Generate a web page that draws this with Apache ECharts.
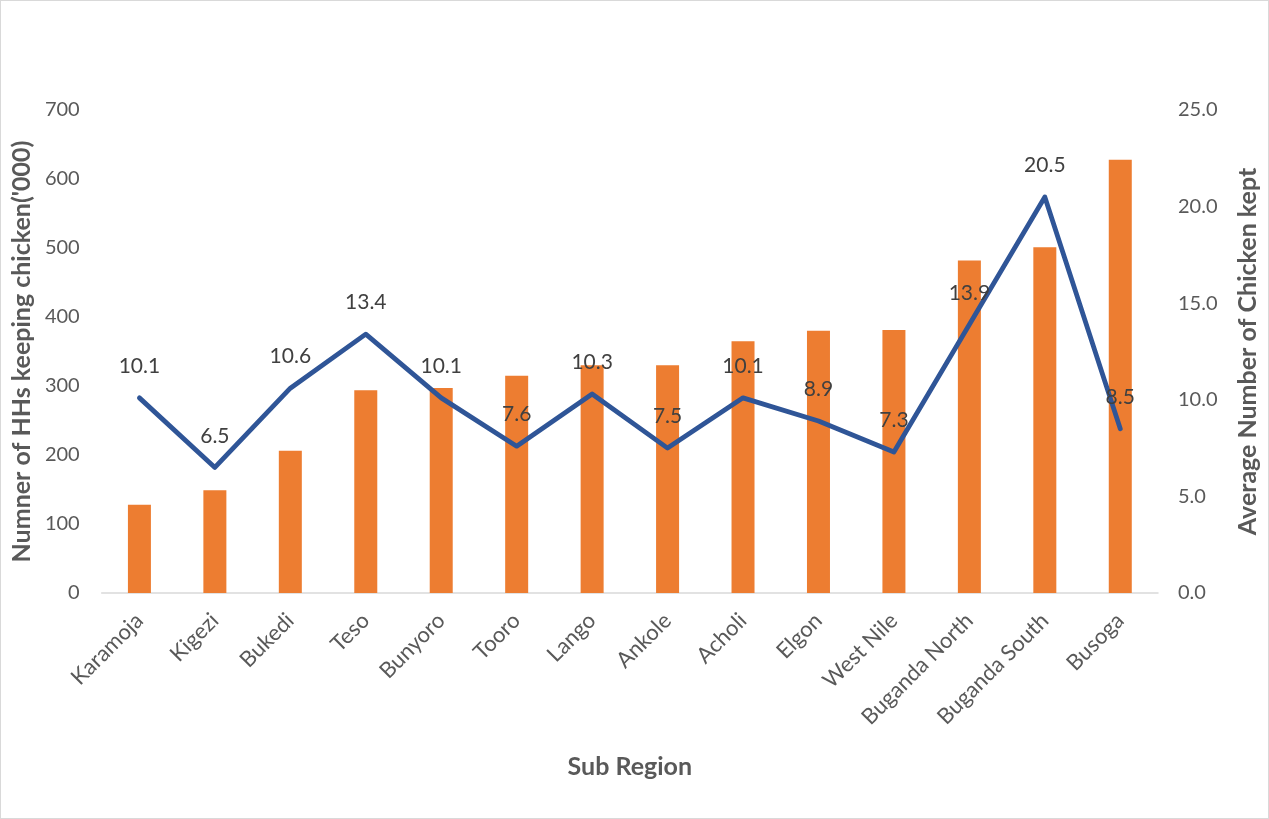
<!DOCTYPE html>
<html>
<head>
<meta charset="utf-8">
<script src="https://cdn.jsdelivr.net/npm/echarts@6/dist/echarts.min.js"></script>
<style>
  html, body { margin: 0; padding: 0; background: #fff; }
  #chart { width: 1269px; height: 819px; box-sizing: border-box; border: 1px solid #d9d9d9; }
</style>
</head>
<body>
<div id="chart"></div>
<script>
// sub regions
const regions = ["Karamoja", "Kigezi", "Bukedi", "Teso", "Bunyoro", "Tooro", "Lango",
  "Ankole", "Acholi", "Elgon", "West Nile", "Buganda North", "Buganda South", "Busoga"];
// number of HHs keeping chicken ('000)
const households = [128, 149, 206, 294, 297, 315, 330, 330, 365, 380, 381, 482, 501, 628];
// average number of chicken kept
const avgChicken = [10.1, 6.5, 10.6, 13.4, 10.1, 7.6, 10.3, 7.5, 10.1, 8.9, 7.3, 13.9, 20.5, 8.5];

const chart = echarts.init(document.getElementById("chart"));
const font = "Lato, sans-serif";
const titleStyle = { color: "#595959", fontSize: 25, fontWeight: "bold", fontFamily: font };

chart.setOption({
  animation: false,
  textStyle: { fontFamily: font },
  grid: { left: 98, right: 109, top: 109, bottom: 225 },
  xAxis: {
    type: "category",
    data: regions,
    name: "Sub Region",
    nameLocation: "middle",
    nameGap: 161,
    nameTextStyle: titleStyle,
    axisLine: { lineStyle: { color: "#d9d9d9", width: 1.5 } },
    axisTick: { show: false },
    axisLabel: { rotate: 45, color: "#595959", fontSize: 22, margin: 24, interval: 0, fontFamily: font }
  },
  yAxis: [
    {
      type: "value",
      min: 0,
      max: 700,
      interval: 100,
      name: "Numner of HHs keeping chicken('000)",
      nameLocation: "middle",
      nameRotate: 90,
      nameGap: 63,
      nameTextStyle: titleStyle,
      axisLine: { show: false },
      axisTick: { show: false },
      splitLine: { show: false },
      axisLabel: { color: "#595959", fontSize: 20, margin: 22, fontFamily: font }
    },
    {
      type: "value",
      min: 0,
      max: 25,
      interval: 5,
      name: "Average Number of Chicken kept",
      nameLocation: "middle",
      nameRotate: 90,
      nameGap: 77,
      nameTextStyle: titleStyle,
      axisLine: { show: false },
      axisTick: { show: false },
      splitLine: { show: false },
      axisLabel: {
        color: "#595959", fontSize: 20, margin: 20, fontFamily: font,
        formatter: v => v.toFixed(1)
      }
    }
  ],
  series: [
    {
      name: "HHs",
      type: "bar",
      data: households,
      barWidth: 23,
      itemStyle: { color: "#ED7D31" }
    },
    {
      name: "Average",
      type: "line",
      yAxisIndex: 1,
      data: avgChicken,
      symbol: "circle",
      symbolSize: 2,
      showSymbol: true,
      itemStyle: { color: "#2F5597" },
      lineStyle: { color: "#2F5597", width: 4.8, join: "round", cap: "round" },
      label: {
        show: true,
        position: "top",
        distance: 20,
        color: "#404040",
        fontSize: 21,
        fontFamily: font,
        formatter: p => p.value.toFixed(1)
      },
      z: 3
    }
  ]
});
</script>
</body>
</html>
